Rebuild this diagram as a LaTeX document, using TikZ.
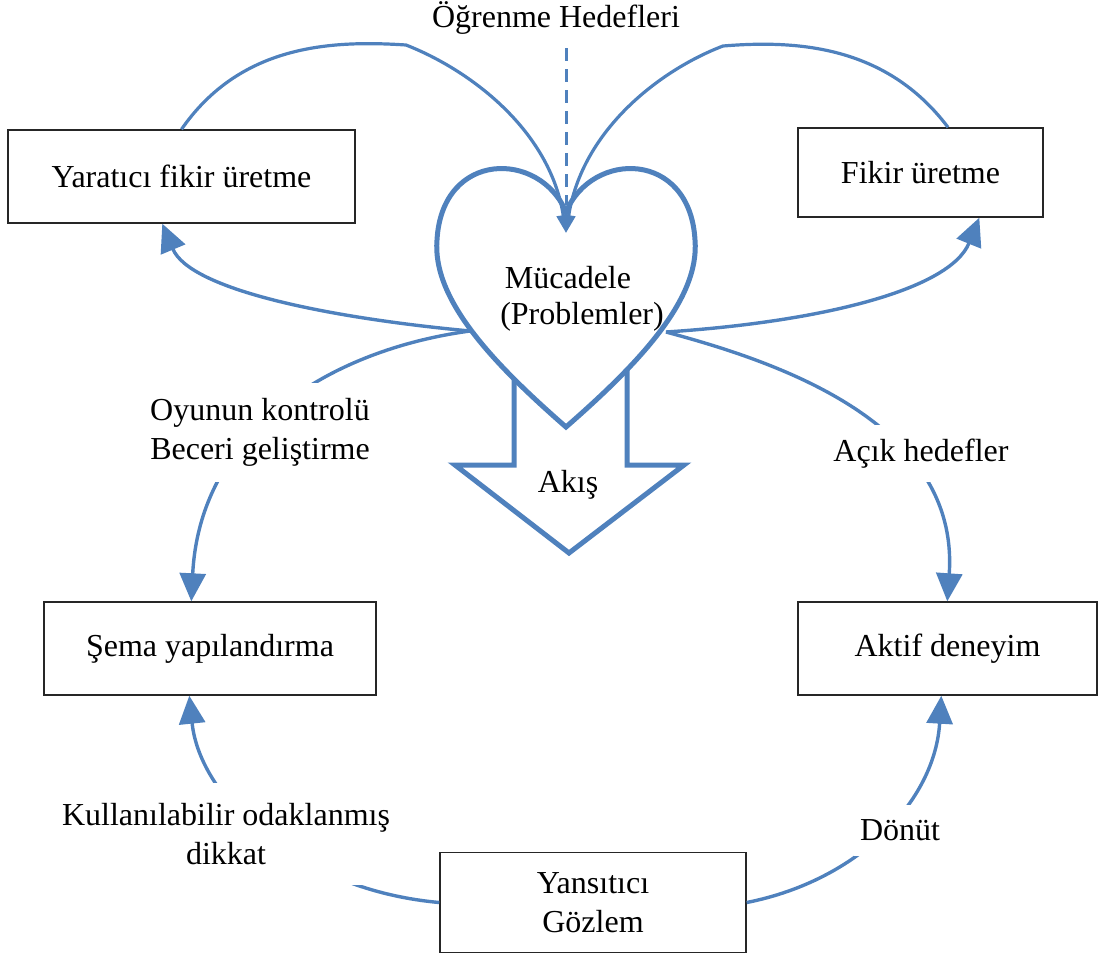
\documentclass[tikz,border=0pt]{standalone}
\usepackage{fontspec}
\setmainfont{Liberation Serif}
\usetikzlibrary{arrows.meta}
\definecolor{flowblue}{HTML}{4F81BD}
\begin{document}
\begin{tikzpicture}[x=1bp, y=-1bp,
  txt/.style={font=\fontsize{32bp}{39bp}\selectfont, align=center, inner sep=0pt},
  stage/.style={txt, draw=black!85, line width=1.4bp, fill=white},
  tag/.style={txt, fill=white},
  link/.style={draw=flowblue, line width=3.4bp},
  linkarrow/.style={link, -{Triangle[length=28bp, width=26bp]}},
  goalarrow/.style={draw=flowblue, line width=3.2bp, -{Triangle[length=18bp, width=13bp]}},
  shapeline/.style={draw=flowblue, line width=5bp, fill=white}]
\useasboundingbox (0,0) rectangle (1099,955);

% stages of the cycle
\node[stage, minimum width=347bp, minimum height=93bp] (yfu) at (181.5,176.5) {Yaratıcı fikir üretme};
\node[stage, minimum width=245bp, minimum height=89bp] (fu) at (920.5,172.5) {Fikir üretme};
\node[stage, minimum width=332bp, minimum height=93bp] (sema) at (210,648.5) {Şema yapılandırma};
\node[stage, minimum width=299bp, minimum height=93bp] (ad) at (947.5,648.5) {Aktif deneyim};
\node[stage, minimum width=306bp, minimum height=100bp] (yg) at (593,902.5) {Yansıtıcı\\Gözlem};

% title
\node[txt] (goals) at (556,18) {Öğrenme Hedefleri};

% flow block arrow (its top is hidden behind the heart)
\path[shapeline] (514,330) -- (514,465) -- (455,465) -- (569,553) -- (684,465)
  -- (627,465) -- (627,330) -- cycle;
\node[txt] (flow) at (568,485) {Akış};

% heart
\path[shapeline] (566,212) .. controls (540,150) and (442,150) .. (437,240)
  .. controls (432,300) and (495,365) .. (566,427)
  .. controls (637,365) and (700,300) .. (695,240)
  .. controls (690,150) and (592,150) .. (566,212) -- cycle;
\node[txt] (challenge) at (568,278) {Mücadele};
\node[txt] (problems) at (582,317) {(Problemler)};

\coordinate (notch) at (566,233);
\coordinate (notchtop) at (566,205);
\coordinate (dashtop) at (566,48);
\coordinate (hL) at (470,331);
\coordinate (hR) at (666,332);

% learning goals into the heart
\draw[goalarrow] (yfu.north) .. controls (240,45) and (330,40) .. (406,45)
  .. controls (470,70) and (550,130) .. (notch);
\draw[goalarrow] ([xshift=27.5bp]fu.north) .. controls (886,45) and (796,40) .. (723,46)
  .. controls (660,70) and (582,130) .. (notch);
\draw[draw=flowblue, line width=3bp, dash pattern=on 13bp off 8bp] (dashtop) -- (notchtop);

% connectors
\draw[linkarrow] (hL) .. controls (330,318) and (190,290) .. ([xshift=155bp]yfu.south west);
\draw[linkarrow] (hR) .. controls (820,322) and (950,290) .. ([xshift=182bp]fu.south west);
\draw[linkarrow] (hL) .. controls (330,350) and (200,430) .. ([xshift=148bp]sema.north west);
\draw[linkarrow] (hR) .. controls (770,360) and (960,420) .. ([xshift=150bp]ad.north west);
\draw[linkarrow] (yg.west) .. controls (300,890) and (200,800) .. ([xshift=146bp]sema.south west);
\draw[linkarrow] (yg.east) .. controls (860,880) and (935,800) .. ([xshift=144bp]ad.south west);

% connector labels
\node[tag, minimum width=232bp, minimum height=99bp] (lblL) at (260,432.5) {Oyunun kontrolü\\Beceri geliştirme};
\node[tag, minimum width=182bp, minimum height=57bp] (lblR) at (921,453.5) {Açık hedefler};
\node[tag, minimum width=338bp, minimum height=102bp] (lblBL) at (226,834) {Kullanılabilir odaklanmış\\dikkat};
\node[tag, minimum width=92bp, minimum height=51bp] (lblBR) at (900,830.5) {Dönüt};
\end{tikzpicture}
\end{document}
